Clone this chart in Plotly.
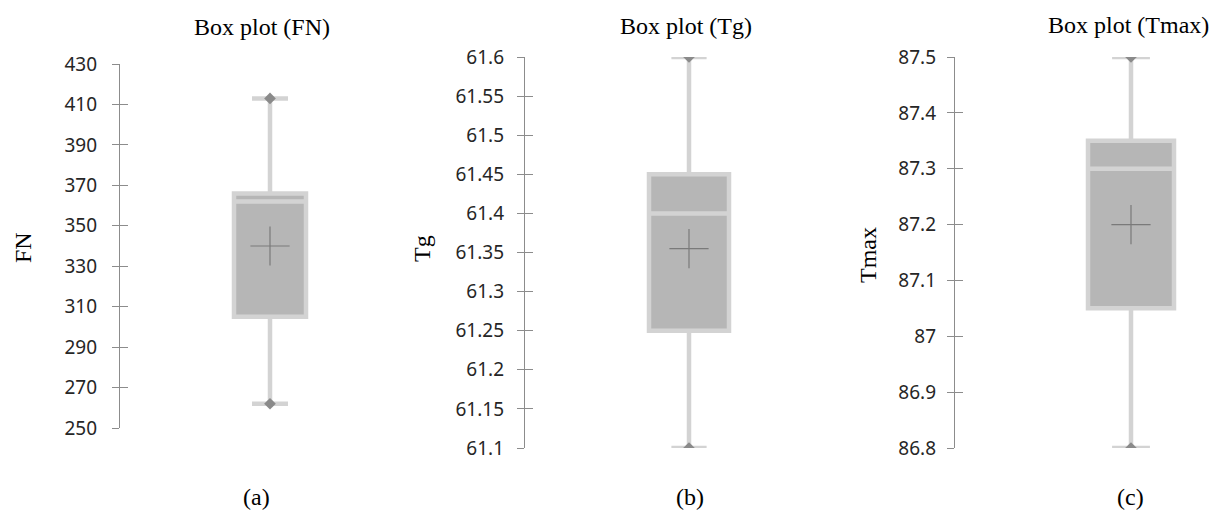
import plotly.graph_objects as go

# ---------------- data ----------------
variables = ["FN", "Tg", "Tmax"]
panel_labels = ["(a)", "(b)", "(c)"]
titles = ["Box plot (FN)", "Box plot (Tg)", "Box plot (Tmax)"]

minimum = [262, 61.10, 86.80]
q1 = [305, 61.25, 87.05]
median = [362, 61.40, 87.30]
q3 = [366, 61.45, 87.35]
maximum = [413, 61.60, 87.50]
mean = [340, 61.355, 87.20]

tick_vals_fn = [250, 270, 290, 310, 330, 350, 370, 390, 410, 430]
tick_text_fn = ["250", "270", "290", "310", "330", "350", "370", "390", "410", "430"]
tick_vals_tg = [61.1, 61.15, 61.2, 61.25, 61.3, 61.35, 61.4, 61.45, 61.5, 61.55, 61.6]
tick_text_tg = ["61.1", "61.15", "61.2", "61.25", "61.3", "61.35", "61.4", "61.45", "61.5", "61.55", "61.6"]
tick_vals_tm = [86.8, 86.9, 87.0, 87.1, 87.2, 87.3, 87.4, 87.5]
tick_text_tm = ["86.8", "86.9", "87", "87.1", "87.2", "87.3", "87.4", "87.5"]
tick_vals = [tick_vals_fn, tick_vals_tg, tick_vals_tm]
tick_text = [tick_text_fn, tick_text_tg, tick_text_tm]
y_ranges = [[250, 430], [61.1, 61.6], [86.8, 87.5]]

# ---------------- layout geometry (pixels) ----------------
W, H = 1209, 514
panels = [
    dict(L=120, R=420, C=270, BW=72, ww=0.50, top=64, bot=428, so=11),
    dict(L=525, R=855, C=689, BW=80, ww=0.44, top=57, bot=448, so=9),
    dict(L=955, R=1209, C=1131, BW=86, ww=0.44, top=57, bot=448, so=7),
]

BOX_FILL = "#b6b6b6"
BOX_LINE = "#d3d3d3"
AXIS_COL = "#8c8c8c"
MARK_COL = "#8a8a8a"

fig = go.Figure()
layout_axes = {}

for i, p in enumerate(panels):
    n = "" if i == 0 else str(i + 1)
    xref, yref = "x" + n, "y" + n
    span = p["R"] - p["L"]
    width_frac = p["BW"] / span

    fig.add_trace(go.Box(
        x=[0], q1=[q1[i]], median=[median[i]], q3=[q3[i]],
        lowerfence=[minimum[i]], upperfence=[maximum[i]],
        width=width_frac, whiskerwidth=p["ww"],
        fillcolor=BOX_FILL, line=dict(color=BOX_LINE, width=4.5),
        boxpoints=False, hoverinfo="skip", showlegend=False,
        xaxis=xref, yaxis=yref, name=variables[i],
    ))
    fig.add_trace(go.Scatter(
        x=[0, 0], y=[minimum[i], maximum[i]], mode="markers",
        marker=dict(symbol="diamond", size=9, color=MARK_COL),
        hoverinfo="skip", showlegend=False, xaxis=xref, yaxis=yref,
    ))
    fig.add_trace(go.Scatter(
        x=[0], y=[mean[i]], mode="markers",
        marker=dict(symbol="cross-thin", size=28,
                    line=dict(color="#7a7a7a", width=1.2)),
        hoverinfo="skip", showlegend=False, xaxis=xref, yaxis=yref,
    ))
    oy = "y" + str(i + 4)
    fig.add_trace(go.Scatter(
        x=[None], y=[None], mode="markers", hoverinfo="skip",
        showlegend=False, xaxis=xref, yaxis=oy,
    ))

    xdom = [p["L"] / W, p["R"] / W]
    ydom = [1 - p["bot"] / H, 1 - p["top"] / H]
    xr = [-(p["C"] - p["L"]) / span, (p["R"] - p["C"]) / span]

    layout_axes["xaxis" + n] = dict(domain=xdom, range=xr, visible=False,
                                    anchor=yref, fixedrange=True, automargin=False)
    layout_axes["yaxis" + n] = dict(
        domain=ydom, range=y_ranges[i], anchor=xref,
        tickmode="array", tickvals=tick_vals[i], ticktext=tick_text[i],
        ticks="outside", ticklen=7, tickwidth=1.3, tickcolor=AXIS_COL,
        showline=True, linecolor=AXIS_COL, linewidth=1.3,
        showgrid=False, zeroline=False, ticklabelstandoff=p["so"],
        tickfont=dict(family="Noto Sans", size=19, color="#262626"),
        fixedrange=True, automargin=False,
    )
    layout_axes["yaxis" + str(i + 4)] = dict(
        overlaying=yref, range=y_ranges[i], anchor=xref,
        tickmode="array", tickvals=tick_vals[i],
        ticks="inside", ticklen=8, tickwidth=1.3, tickcolor=AXIS_COL,
        showticklabels=False, showline=False, showgrid=False,
        zeroline=False, fixedrange=True, automargin=False,
    )

serif = dict(family="Liberation Serif", size=24, color="#000000")
title_pos = [(262, 27), (686, 26), (1128, 25)]
ylabel_pos = [(23, 248), (422, 249), (868, 255)]
label_pos = [(256, 497), (690, 497), (1130, 497)]

annotations = []
for i in range(3):
    annotations.append(dict(text=titles[i], x=title_pos[i][0] / W, y=1 - title_pos[i][1] / H,
                            xref="paper", yref="paper", showarrow=False,
                            xanchor="center", yanchor="middle", font=serif))
    annotations.append(dict(text=variables[i], x=ylabel_pos[i][0] / W, y=1 - ylabel_pos[i][1] / H,
                            xref="paper", yref="paper", showarrow=False, textangle=-90,
                            xanchor="center", yanchor="middle", font=serif))
    annotations.append(dict(text=panel_labels[i], x=label_pos[i][0] / W, y=1 - label_pos[i][1] / H,
                            xref="paper", yref="paper", showarrow=False,
                            xanchor="center", yanchor="middle", font=serif))

fig.update_layout(
    width=W, height=H,
    margin=dict(l=0, r=0, t=0, b=0, pad=0, autoexpand=False),
    paper_bgcolor="white", plot_bgcolor="white",
    showlegend=False, annotations=annotations, **layout_axes,
)

fig.write_html(
    "out.html",
    config={"displayModeBar": False},
    post_script="document.body.style.margin='0';document.body.style.overflow='hidden';",
)
